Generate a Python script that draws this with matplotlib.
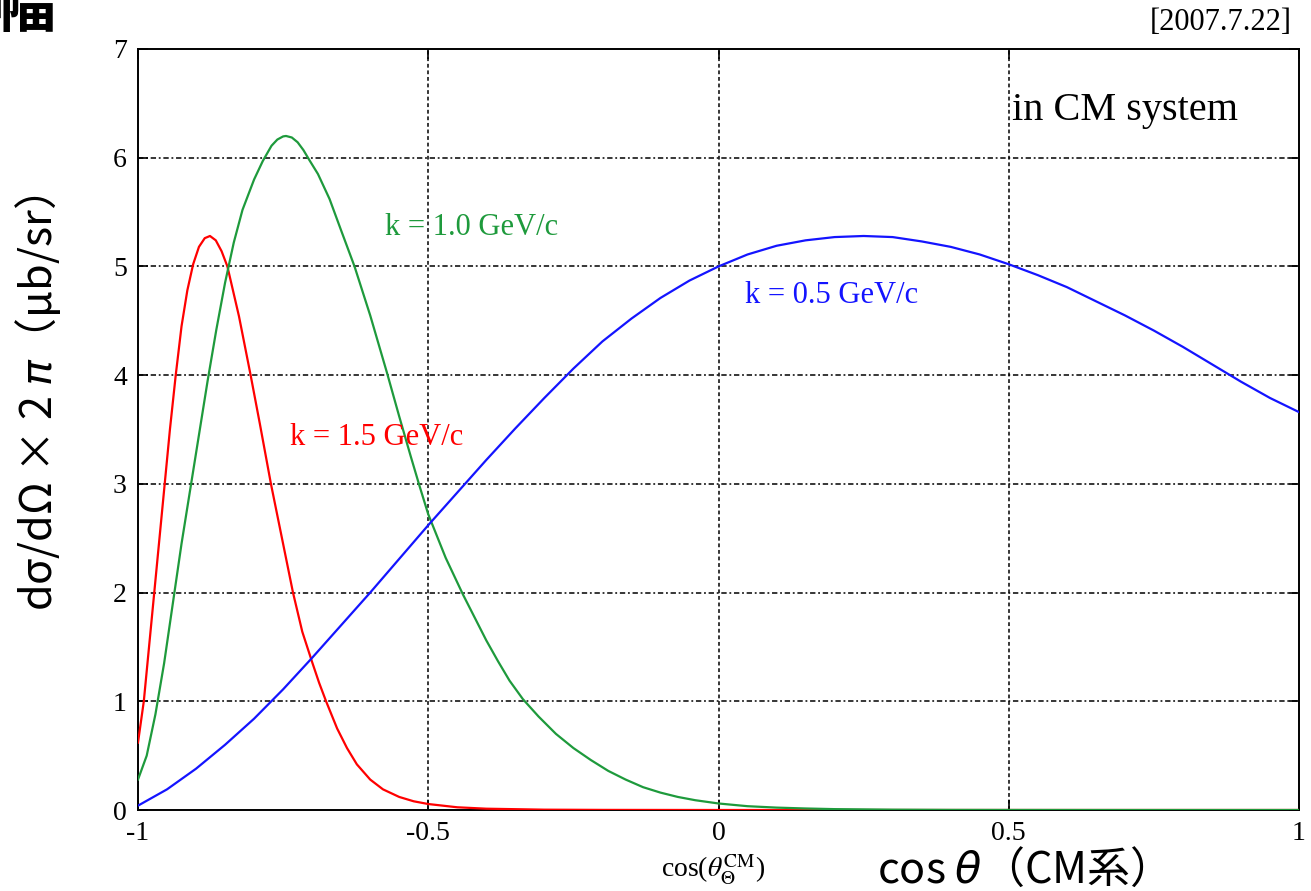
import matplotlib
matplotlib.use("Agg")
import matplotlib.pyplot as plt

# ---------------- data ----------------
# k = 0.5 GeV/c (blue)
x_k05 = [-1.0, -0.95, -0.9, -0.85, -0.8, -0.75, -0.7, -0.65, -0.6, -0.55, -0.5,
         -0.45, -0.4, -0.35, -0.3, -0.25, -0.2, -0.15, -0.1, -0.05, 0.0,
         0.05, 0.1, 0.15, 0.2, 0.25, 0.3, 0.35, 0.4, 0.45, 0.5,
         0.55, 0.6, 0.65, 0.7, 0.75, 0.8, 0.85, 0.9, 0.95, 1.0]
y_k05 = [0.04, 0.19, 0.38, 0.60, 0.84, 1.11, 1.40, 1.70, 2.0, 2.31, 2.62,
         2.92, 3.22, 3.51, 3.79, 4.06, 4.31, 4.52, 4.71, 4.87, 5.0,
         5.11, 5.19, 5.24, 5.27, 5.28, 5.27, 5.23, 5.18, 5.11, 5.02,
         4.92, 4.81, 4.68, 4.55, 4.41, 4.26, 4.10, 3.94, 3.79, 3.66]

# k = 1.0 GeV/c (green)
x_k10 = [-1.0, -0.985, -0.97, -0.955, -0.94, -0.925, -0.91, -0.895, -0.88, -0.865,
         -0.85, -0.835, -0.82, -0.8, -0.785, -0.77, -0.76, -0.75, -0.745, -0.735,
         -0.725, -0.715, -0.705, -0.69, -0.67, -0.65, -0.627, -0.6, -0.571, -0.55,
         -0.53, -0.515, -0.5, -0.47, -0.44, -0.42, -0.4, -0.38, -0.36, -0.337,
         -0.31, -0.28, -0.25, -0.22, -0.19, -0.16, -0.13, -0.1, -0.07, -0.04,
         0.0, 0.05, 0.1, 0.15, 0.2, 0.3, 0.4, 0.5, 0.7, 1.0]
y_k10 = [0.28, 0.5, 0.88, 1.35, 1.9, 2.45, 2.95, 3.45, 3.95, 4.42,
         4.85, 5.22, 5.52, 5.8, 5.97, 6.11, 6.167, 6.196, 6.2, 6.186,
         6.142, 6.07, 5.98, 5.85, 5.62, 5.33, 5.0, 4.55, 4.02, 3.62,
         3.25, 2.98, 2.72, 2.32, 1.98, 1.77, 1.56, 1.37, 1.19, 1.02,
         0.86, 0.70, 0.57, 0.46, 0.36, 0.28, 0.21, 0.16, 0.12, 0.09,
         0.06, 0.035, 0.022, 0.014, 0.008, 0.003, 0.001, 0.0005, 0.0, 0.0]

# k = 1.5 GeV/c (red)
x_k15 = [-1.0, -0.99, -0.981, -0.972, -0.963, -0.954, -0.945, -0.935, -0.925,
         -0.915, -0.905, -0.895, -0.885, -0.876, -0.866, -0.856, -0.846, -0.826,
         -0.806, -0.79, -0.771, -0.752, -0.733, -0.717, -0.7, -0.688, -0.676,
         -0.657, -0.64, -0.623, -0.6, -0.578, -0.55, -0.525, -0.5, -0.45, -0.4,
         -0.3, -0.2, 0.0, 1.0]
y_k15 = [0.62, 1.0, 1.5, 2.0, 2.5, 3.0, 3.5, 4.0, 4.45,
         4.78, 5.02, 5.18, 5.26, 5.28, 5.24, 5.14, 5.0, 4.54,
         4.0, 3.55, 3.0, 2.5, 2.0, 1.64, 1.36, 1.17, 1.0,
         0.75, 0.57, 0.42, 0.28, 0.19, 0.12, 0.08, 0.055, 0.025, 0.012,
         0.003, 0.001, 0.0, 0.0]

x_ticks = [-1, -0.5, 0, 0.5, 1]
x_ticklabels = ["-1", "-0.5", "0", "0.5", "1"]
y_ticks = [0, 1, 2, 3, 4, 5, 6, 7]
y_ticklabels = ["0", "1", "2", "3", "4", "5", "6", "7"]

series_labels = ["k = 1.5 GeV/c", "k = 1.0 GeV/c", "k = 0.5 GeV/c"]
series_colors = ["#ff0000", "#1e9a3c", "#1414ff"]

# ---------------- figure ----------------
W, H = 1311, 891
plt.rcParams["mathtext.fontset"] = "stix"
fig = plt.figure(figsize=(W / 100, H / 100), dpi=100)
fig.patch.set_facecolor("white")

def fx(px):
    return px / W

def fy(py):
    return 1 - py / H

left, right, top, bottom = 138, 1299, 49, 810
ax = fig.add_axes([fx(left), fy(bottom), (right - left) / W, (bottom - top) / H])

ax.plot(x_k15, y_k15, color=series_colors[0], lw=1.6, zorder=3)
ax.plot(x_k10, y_k10, color=series_colors[1], lw=1.6, zorder=3)
ax.plot(x_k05, y_k05, color=series_colors[2], lw=1.6, zorder=3)

ax.set_xlim(-1, 1)
ax.set_ylim(0, 7)
ax.set_xticks(x_ticks)
ax.set_xticklabels(x_ticklabels)
ax.set_yticks(y_ticks)
ax.set_yticklabels(y_ticklabels)

serif = "Liberation Serif"
for lab in ax.get_xticklabels() + ax.get_yticklabels():
    lab.set_fontfamily(serif)
    lab.set_fontsize(20)
    lab.set_color("black")

ax.tick_params(direction="in", length=7, width=1.2, top=True, right=True)
ax.tick_params(axis="x", pad=8)
ax.tick_params(axis="y", pad=8)
for s in ax.spines.values():
    s.set_linewidth(1.4)
    s.set_color("black")

# grid: horizontal dash-dot, vertical short dashes
for yv in y_ticks[1:-1]:
    ax.axhline(yv, color="black", lw=1.1, dashes=(3.5, 1.8, 1.2, 1.8), zorder=1)
for xv in x_ticks[1:-1]:
    ax.axvline(xv, color="black", lw=1.1, dashes=(2.5, 1.8), zorder=1)

# curve labels
ax.text(-0.738, 3.43, series_labels[0], color=series_colors[0], fontfamily=serif,
        fontsize=22, ha="left", va="center")
ax.text(-0.575, 5.36, series_labels[1], color=series_colors[1], fontfamily=serif,
        fontsize=22, ha="left", va="center")
ax.text(0.045, 4.73, series_labels[2], color=series_colors[2], fontfamily=serif,
        fontsize=22, ha="left", va="center")
ax.text(0.506, 6.43, "in CM system", color="black", fontfamily=serif,
        fontsize=29, ha="left", va="center")

# date stamp
fig.text(fx(1292), fy(22), "[2007.7.22]", fontfamily=serif, fontsize=22,
         ha="right", va="center")

# original small x label
fig.text(fx(713), fy(870), r"cos($\theta_{\Theta}^{\rm CM}$)", fontfamily=serif,
         fontsize=20, ha="center", va="center")

cjk = ["Noto Sans CJK JP", "DejaVu Sans"]
# overlay labels
fig.text(fx(1011), fy(871), r"cos $\theta$（CM系）", family=cjk, fontsize=31,
         math_fontfamily="dejavusans", ha="center", va="center")
fig.text(fx(38), fy(403), r"dσ/dΩ × 2 $\pi$（μb/sr）", family=cjk, fontsize=31,
         math_fontfamily="dejavusans", rotation=90, ha="center", va="center")

# cut-off character in the top-left corner
fig.text(fx(56), fy(26), "幅", family=cjk, fontsize=46, fontweight="bold",
         ha="right", va="baseline")

fig.savefig("out.png", dpi=100, facecolor="white")
